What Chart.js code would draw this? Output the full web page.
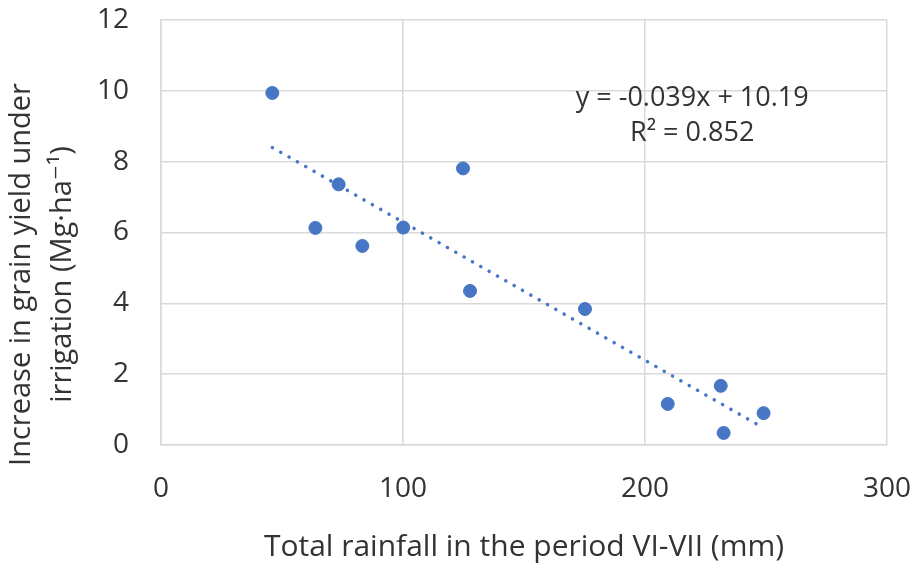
<!DOCTYPE html>
<html>
<head>
<meta charset="utf-8">
<script src="https://cdn.jsdelivr.net/npm/chart.js@4"></script>
<style>
  html, body { margin: 0; padding: 0; background: #fff; }
  #wrap { width: 918px; height: 565px; }
</style>
</head>
<body>
<div id="wrap"><canvas id="rainChart"></canvas></div>
<script>
// 降雨量 (mm) 与增产量 (Mg/ha)
const rainfall = [46, 63.8, 73.4, 83.2, 100.1, 124.8, 127.7, 175.2, 209.4, 231.3, 232.5, 249];
const yieldIncrease = [9.94, 6.13, 7.36, 5.62, 6.14, 7.81, 4.35, 3.84, 1.16, 1.67, 0.34, 0.9];
// 趋势线端点
const trendX = [46, 249];
const trendY = [8.40, 0.48];
const xTicks = [0, 100, 200, 300];
const yTicks = [0, 2, 4, 6, 8, 10, 12];
const equationLines = ['y = -0.039x + 10.19', 'R\u00B2 = 0.852'];
const yTitleLines = ['Increase in grain yield under', 'irrigation (Mg\u00B7ha\u207B\u00B9)'];

const blue = '#4676C4';
const textColor = '#333333';
const fontFamily = '"Open Sans", "DejaVu Sans", sans-serif';

// 公式标注
const equationLabel = {
    id: 'equationLabel',
    afterDatasetsDraw(chart) {
        const ctx = chart.ctx;
        const x = chart.scales.x.getPixelForValue(219.5);
        const y0 = chart.scales.y.getPixelForValue(9.8);
        ctx.save();
        ctx.fillStyle = textColor;
        ctx.font = '27px ' + fontFamily;
        ctx.textAlign = 'center';
        ctx.textBaseline = 'middle';
        equationLines.forEach(function(line, i) {
            ctx.fillText(line, x, y0 + i * 35);
        });
        ctx.restore();
    }
};

// Y轴标题（两行，位置比图区中心偏下）
const yAxisTitle = {
    id: 'yAxisTitle',
    afterDraw(chart) {
        const ctx = chart.ctx;
        const area = chart.chartArea;
        const cy = (area.top + area.bottom) / 2 + 42;
        ctx.save();
        ctx.translate(0, cy);
        ctx.rotate(-Math.PI / 2);
        ctx.fillStyle = textColor;
        ctx.font = '29px ' + fontFamily;
        ctx.textAlign = 'center';
        ctx.textBaseline = 'middle';
        yTitleLines.forEach(function(line, i) {
            ctx.fillText(line, 0, 22 + i * 41);
        });
        ctx.restore();
    }
};

new Chart(document.getElementById('rainChart'), {
    type: 'scatter',
    data: {
        datasets: [
            {
                label: 'data',
                data: rainfall.map(function(x, i) { return { x: x, y: yieldIncrease[i] }; }),
                backgroundColor: blue,
                borderColor: blue,
                pointRadius: 6.5,
                pointHoverRadius: 6.5,
                order: 1
            },
            {
                label: 'trend',
                type: 'line',
                data: trendX.map(function(x, i) { return { x: x, y: trendY[i] }; }),
                borderColor: blue,
                borderWidth: 3.5,
                borderDash: [0.1, 9.5],
                borderCapStyle: 'round',
                pointRadius: 0,
                fill: false,
                order: 2
            }
        ]
    },
    options: {
        responsive: true,
        maintainAspectRatio: false,
        animation: false,
        layout: { padding: { left: 0, right: 31, top: 20, bottom: 0 } },
        plugins: {
            legend: { display: false },
            tooltip: { enabled: false }
        },
        scales: {
            x: {
                type: 'linear',
                min: 0,
                max: 300,
                afterBuildTicks: function(axis) {
                    axis.ticks = xTicks.map(function(v) { return { value: v }; });
                },
                grid: { color: '#d9d9d9', lineWidth: 1.5, drawTicks: false },
                border: { color: '#d9d9d9', width: 1.5 },
                ticks: { color: textColor, font: { family: fontFamily, size: 28 }, padding: 27 },
                title: {
                    display: true,
                    text: 'Total rainfall in the period VI-VII (mm)',
                    color: textColor,
                    font: { family: fontFamily, size: 30 },
                    padding: { top: 12, bottom: 0 }
                },
                afterFit: function(axis) {
                    axis.height = 120;
                    axis.paddingLeft = 0;
                    axis.paddingRight = 0;
                }
            },
            y: {
                type: 'linear',
                min: 0,
                max: 12,
                afterBuildTicks: function(axis) {
                    axis.ticks = yTicks.map(function(v) { return { value: v }; });
                },
                grid: { color: '#d9d9d9', lineWidth: 1.5, drawTicks: false },
                border: { color: '#d9d9d9', width: 1.5 },
                ticks: { color: textColor, font: { family: fontFamily, size: 28 }, padding: 32 },
                afterFit: function(axis) {
                    axis.width = 161;
                    axis.paddingTop = 0;
                    axis.paddingBottom = 0;
                }
            }
        }
    },
    plugins: [equationLabel, yAxisTitle]
});
</script>
</body>
</html>
